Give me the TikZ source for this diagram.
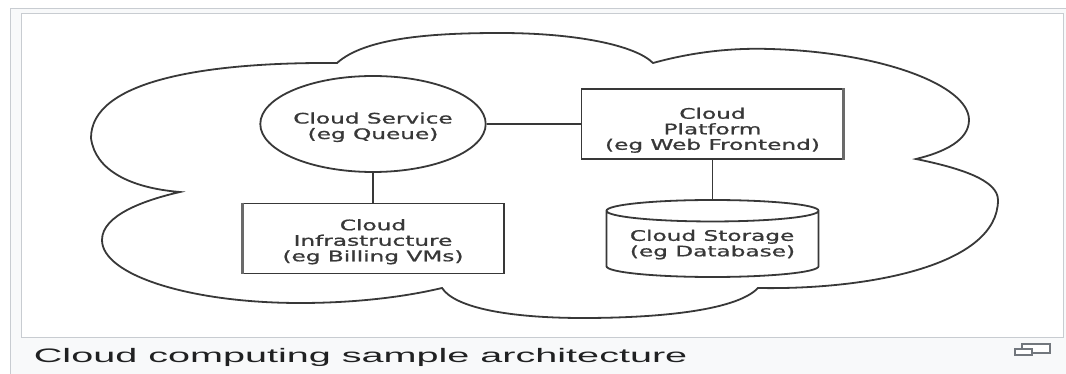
\documentclass[tikz,border=0pt]{standalone}
\usepackage{fontspec}
\usepackage{graphicx}
\setmainfont{DejaVu Sans}
\newfontfamily\labelfont{DejaVu Sans}[FakeBold=0.8]
\newfontfamily\captionfont{Liberation Sans}
\usetikzlibrary{positioning, shapes.geometric}
\definecolor{framegray}{HTML}{C8CCD1}
\definecolor{pagegray}{HTML}{F8F9FA}
\definecolor{inkgray}{HTML}{383838}
\definecolor{captext}{HTML}{202122}
\definecolor{icongray}{HTML}{72777D}
% wide label text, one line per \\ (#3 drops it a little more)
\newcommand{\boxtext}[3][c]{\raisebox{0pt}[\dimexpr\height+#3\relax][\depth]{\scalebox{1.6}[1]{\labelfont\fontsize{14.5}{15}\selectfont\begin{tabular}{@{}#1@{}}#2\end{tabular}}}}
\tikzset{
	part/.style={
		rectangle,
		draw=inkgray, line width=1.8pt,
		fill=white,
		inner sep=0pt,
		minimum width=262pt,
		minimum height=70pt,
	},
	service/.style={
		ellipse,
		draw=inkgray, line width=1.8pt,
		inner sep=0pt,
		minimum width=212pt,
		minimum height=96pt,
	},
	storage/.style={
		cylinder, shape border rotate=90, aspect=0.13,
		draw=inkgray, line width=1.8pt,
		inner sep=0pt,
		minimum width=212pt,
		minimum height=77pt,
	},
	edgeshade/.style={line width=3pt, draw=inkgray!75},
}

\begin{document}
\begin{tikzpicture}[x=1pt, y=-1pt, line width=1.8pt, color=inkgray]
        \useasboundingbox (0,0) rectangle (1066,374);
        \clip (0,0) rectangle (1066,374);
        % page and image frame
        \draw[framegray, fill=pagegray, line width=1pt] (10.5,8.5) rectangle (1080,390);
        \draw[framegray, fill=white, line width=1pt] (21,14) rectangle (1063,337);

        % cloud outline
        \draw (180,192) .. controls (130,188) and (95,170) .. (91,138)
            .. controls (91,82) and (200,62) .. (337,63)
            .. controls (365,38) and (430,33) .. (500,33)
            .. controls (575,33) and (635,45) .. (653,63)
            .. controls (700,50) and (740,48) .. (770,49)
            .. controls (880,52) and (969,85) .. (969,120)
            .. controls (969,140) and (945,152) .. (916,159)
            .. controls (960,168) and (998,180) .. (998,200)
            .. controls (998,265) and (870,290) .. (758,288)
            .. controls (735,312) and (650,318) .. (583,318)
            .. controls (510,318) and (455,308) .. (442,288)
            .. controls (400,298) and (350,303) .. (300,303)
            .. controls (190,303) and (102,275) .. (102,240)
            .. controls (102,215) and (145,200) .. cycle;

        \node[service] (svc) at (373,124) {\boxtext{Cloud Service\\(eg Queue)}{8pt}};
        \node[part, right of = svc, node distance = 339.5pt] (plat) {\boxtext{Cloud\\Platform\\(eg Web Frontend)}{14pt}};
        \node[part, below of = svc, node distance = 114.5pt] (infra) {\boxtext{Cloud\\Infrastructure\\(eg Billing VMs)}{8pt}};
        \node[storage, below of = plat, node distance = 114.5pt, anchor = shape center] (store) {\boxtext[l]{Cloud Storage\\(eg Database)}{2pt}};

        % heavier side edges of the two boxes
        \draw[edgeshade] ([xshift=-1pt]plat.north east) -- ([xshift=-1pt]plat.south east);
        \draw[edgeshade] ([xshift=1pt]infra.north west) -- ([xshift=1pt]infra.south west);

        \path (svc) edge (plat)
        (svc) edge (infra)
        (plat) edge (store);

        % caption and enlarge icon
        \node[anchor=base west, inner sep=0pt, text=captext] (caption) at (33,362)
            {\scalebox{2.03}[1]{\captionfont\fontsize{19.5}{20}\selectfont Cloud computing sample architecture}};
        \draw[icongray, fill=white, line width=1.2pt] (1022,344) rectangle (1050,353);
        \draw[icongray, fill=white, line width=1.2pt] (1015,349) rectangle (1032,355);
\end{tikzpicture}
\end{document}
